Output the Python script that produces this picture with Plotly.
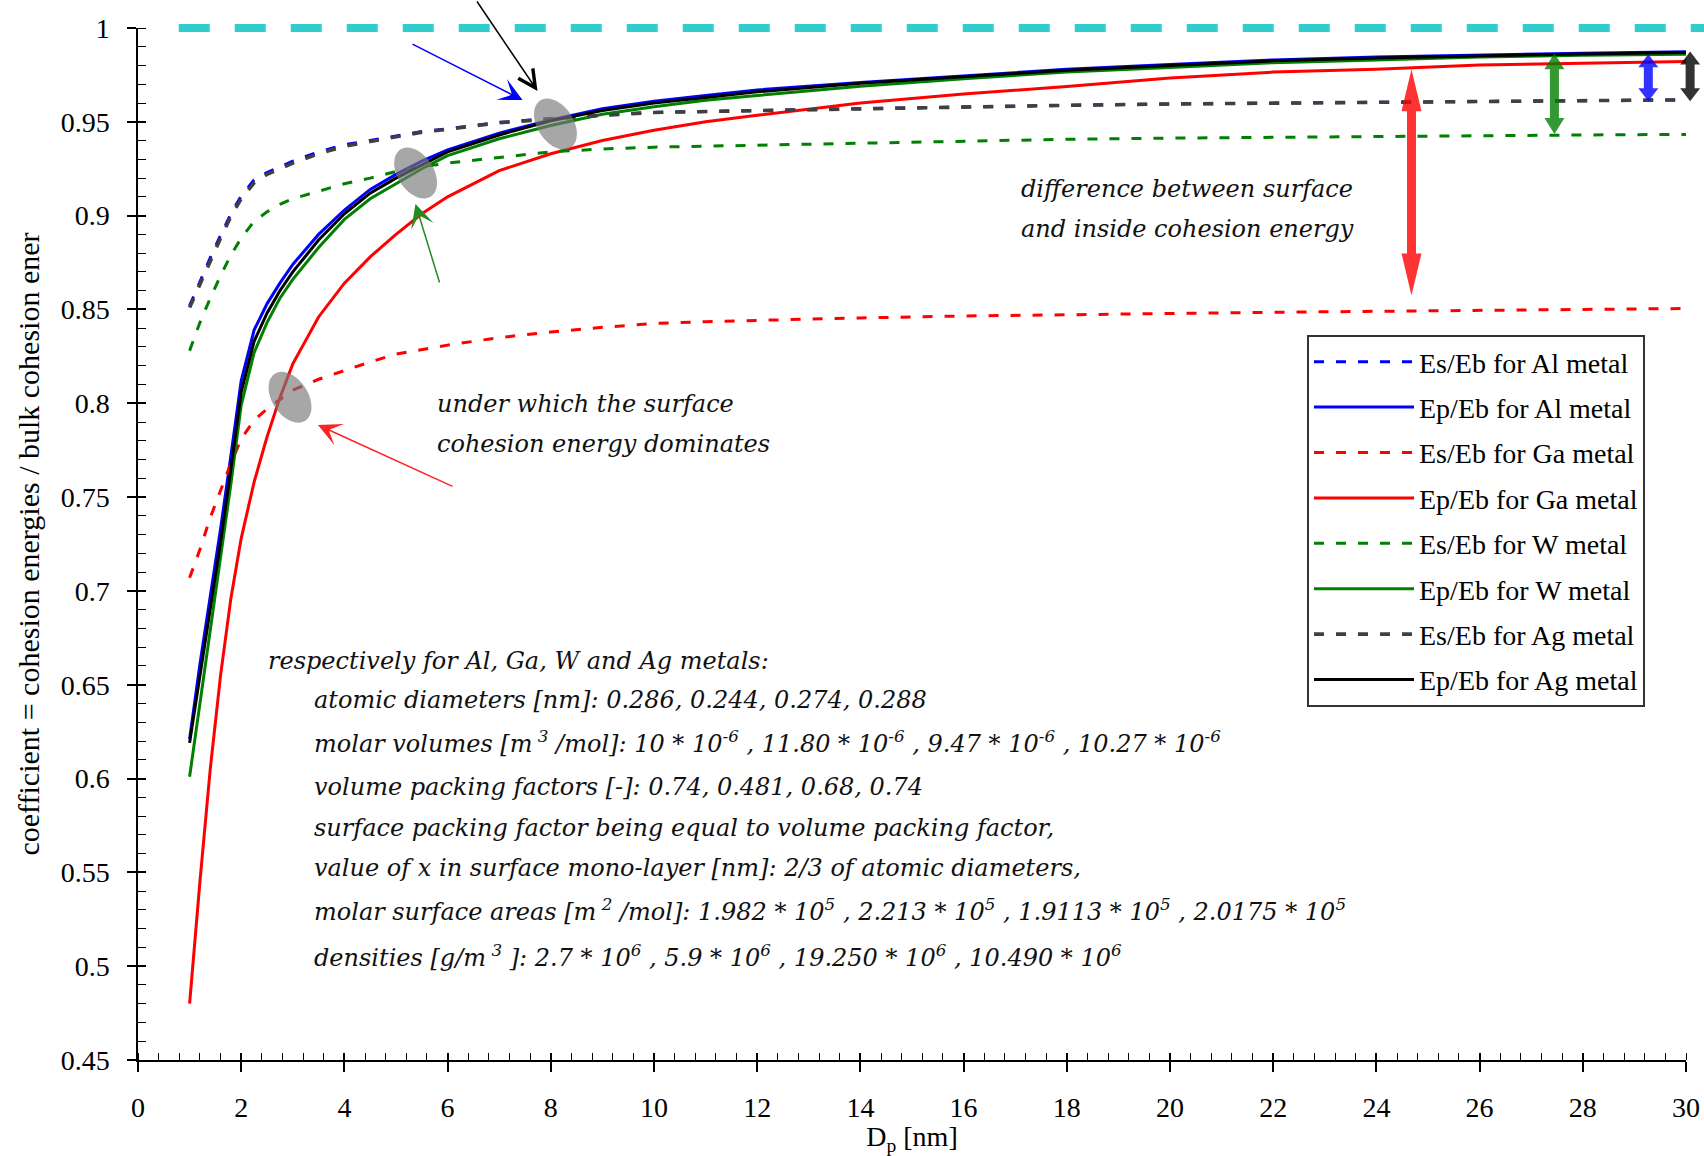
import math
import plotly.graph_objects as go

# ---------------- data ----------------
dp_nm = [1, 1.2, 1.4, 1.6, 1.8, 2, 2.25, 2.5, 2.75, 3, 3.5, 4, 4.5, 5, 5.5, 6,
         7, 8, 9, 10, 11, 12, 14, 16, 18, 20, 22, 24, 26, 28, 30]

es_al = [0.852, 0.865, 0.8775, 0.8895, 0.901, 0.9105, 0.919, 0.923, 0.926, 0.929,
         0.934, 0.9378, 0.940, 0.9425, 0.9448, 0.9463, 0.9497, 0.9517, 0.9536, 0.955,
         0.9556, 0.956, 0.957, 0.958, 0.9588, 0.9595, 0.960, 0.9605, 0.961, 0.9613, 0.9617]
ep_al = [0.621, 0.661, 0.697, 0.733, 0.772, 0.812, 0.839, 0.853, 0.864, 0.874,
         0.890, 0.903, 0.914, 0.922, 0.929, 0.935, 0.944, 0.951, 0.957, 0.961,
         0.964, 0.967, 0.971, 0.9745, 0.978, 0.9805, 0.983, 0.9845, 0.9857, 0.9866, 0.9873]
es_ga = [0.707, 0.722, 0.739, 0.754, 0.768, 0.781, 0.791, 0.797, 0.802, 0.807,
         0.8128, 0.8175, 0.822, 0.8262, 0.8285, 0.831, 0.835, 0.838, 0.8405, 0.8425,
         0.8435, 0.8443, 0.8455, 0.8465, 0.8473, 0.848, 0.8485, 0.849, 0.8495, 0.850, 0.8505]
ep_ga = [0.480, 0.545, 0.605, 0.655, 0.696, 0.728, 0.758, 0.782, 0.803, 0.821,
         0.846, 0.864, 0.878, 0.890, 0.901, 0.910, 0.924, 0.933, 0.940, 0.9455,
         0.950, 0.9535, 0.960, 0.9648, 0.9688, 0.9733, 0.9765, 0.978, 0.9803, 0.9813, 0.9822]
es_w = [0.828, 0.843, 0.856, 0.868, 0.879, 0.888, 0.897, 0.902, 0.906, 0.909,
        0.913, 0.917, 0.920, 0.9235, 0.926, 0.928, 0.931, 0.934, 0.9355, 0.9365,
        0.937, 0.9375, 0.9387, 0.9397, 0.9407, 0.9413, 0.9418, 0.9422, 0.9426, 0.943, 0.9433]
ep_w = [0.601, 0.640, 0.678, 0.716, 0.757, 0.799, 0.827, 0.843, 0.856, 0.866,
        0.883, 0.898, 0.909, 0.917, 0.925, 0.932, 0.941, 0.948, 0.954, 0.958,
        0.9615, 0.964, 0.969, 0.973, 0.9765, 0.979, 0.9815, 0.983, 0.9845, 0.9855, 0.986]
es_ag = [0.851, 0.8635, 0.876, 0.888, 0.8995, 0.909, 0.9175, 0.922, 0.925, 0.928,
         0.933, 0.937, 0.9395, 0.942, 0.9445, 0.946, 0.9495, 0.9515, 0.9535, 0.955,
         0.9555, 0.956, 0.957, 0.958, 0.9588, 0.9595, 0.960, 0.9605, 0.961, 0.9613, 0.9617]
ep_ag = [0.619, 0.655, 0.690, 0.726, 0.765, 0.806, 0.833, 0.848, 0.860, 0.870,
         0.887, 0.901, 0.912, 0.920, 0.927, 0.934, 0.943, 0.9505, 0.956, 0.960,
         0.963, 0.966, 0.9705, 0.974, 0.9775, 0.980, 0.9825, 0.984, 0.9853, 0.9862, 0.987]

series_names = ["Es/Eb for Al metal", "Ep/Eb for Al metal",
                "Es/Eb for Ga metal", "Ep/Eb for Ga metal",
                "Es/Eb for W metal", "Ep/Eb for W metal",
                "Es/Eb for Ag metal", "Ep/Eb for Ag metal"]
series_values = [es_al, ep_al, es_ga, ep_ga, es_w, ep_w, es_ag, ep_ag]
series_colors = ["#0000ff", "#0000ff", "#ff0000", "#ff0000",
                 "#008000", "#008000", "#404040", "#000000"]
series_dashed = [True, False, True, False, True, False, True, False]
series_widths = [3, 3, 3, 3, 3, 3, 3.6, 3]

bulk_level = 1.0                       # Eb/Eb reference line
# double arrows: x, top value, bottom value (difference surface vs inside)
diff_arrow_x = [24.68, 27.45, 29.27, 30.08]
diff_arrow_top = [0.978, 0.9865, 0.986, 0.9875]
diff_arrow_bot = [0.8575, 0.9435, 0.961, 0.961]
diff_arrow_col = ["rgba(255,0,0,0.8)", "rgba(0,128,0,0.8)",
                  "rgba(0,0,255,0.8)", "rgba(0,0,0,0.8)"]
diff_head_len = [42, 16, 13, 13]
# crossing points (grey ellipses)
cross_x = [2.946, 5.38, 8.09]
cross_y = [0.8032, 0.9227, 0.9488]

# ---------------- layout geometry ----------------
W, H = 1704, 1156
ML, MR, MT, MB = 138, 18, 28, 96
PW, PH = W - ML - MR, H - MT - MB
X0, X1 = 0.0, 30.0
Y0, Y1 = 0.45, 1.0


def px_x(x):
    return ML + (x - X0) / (X1 - X0) * PW


def px_y(y):
    return MT + (Y1 - y) / (Y1 - Y0) * PH


def dat_x(px):
    return X0 + (px - ML) / PW * (X1 - X0)


def dat_y(py):
    return Y1 - (py - MT) / PH * (Y1 - Y0)


def pap_x(px):
    return (px - ML) / PW


def pap_y(py):
    return 1 - (py - MT) / PH


SERIF = "Liberation Serif, Times New Roman, serif"
ITAL = "DejaVu Serif, serif"

fig = go.Figure()

for name, vals, col, dashed, lw in zip(series_names, series_values, series_colors,
                                       series_dashed, series_widths):
    fig.add_trace(go.Scatter(
        x=dp_nm, y=vals, mode="lines", name=name, legendgroup=name,
        line=dict(color=col, width=lw, dash="10px,12px" if dashed else "solid"),
    ))

# dummy trace for the overlay axes (inside major ticks)
fig.add_trace(go.Scatter(x=[None], y=[None], xaxis="x2", yaxis="y2",
                         showlegend=False, hoverinfo="skip"))

shapes = []
# cyan bulk line at 1
shapes.append(dict(type="line", xref="paper", yref="paper",
                   x0=pap_x(178.7), x1=pap_x(1704), y0=pap_y(px_y(bulk_level)), y1=pap_y(px_y(bulk_level)),
                   line=dict(color="#33cccc", width=8, dash="31px,25px"), layer="above"))

# grey ellipses
for cx, cy in zip(cross_x, cross_y):
    X, Y = px_x(cx), px_y(cy)
    a, b, th = 28, 18, math.radians(57)
    pts = []
    for k in range(48):
        t = 2 * math.pi * k / 48
        ex = X + a * math.cos(th) * math.cos(t) - b * math.sin(th) * math.sin(t)
        ey = Y + a * math.sin(th) * math.cos(t) + b * math.cos(th) * math.sin(t)
        pts.append(f"{pap_x(ex):.5f},{pap_y(ey):.5f}")
    shapes.append(dict(type="path", xref="paper", yref="paper",
                       path="M" + " L".join(pts) + " Z",
                       fillcolor="rgba(120,120,120,0.65)", line=dict(width=0), layer="above"))

# double-headed arrows
for xa, yt, yb, col, hl in zip(diff_arrow_x, diff_arrow_top, diff_arrow_bot, diff_arrow_col, diff_head_len):
    cx, t, b = px_x(xa), px_y(yt), px_y(yb)
    sw, hw = 9, 20
    p = [(cx, t), (cx + hw / 2, t + hl), (cx + sw / 2, t + hl), (cx + sw / 2, b - hl),
         (cx + hw / 2, b - hl), (cx, b), (cx - hw / 2, b - hl), (cx - sw / 2, b - hl),
         (cx - sw / 2, t + hl), (cx - hw / 2, t + hl)]
    shapes.append(dict(type="path", xref="paper", yref="paper",
                       path="M" + " L".join(f"{pap_x(u):.5f},{pap_y(v):.5f}" for u, v in p) + " Z",
                       fillcolor=col, line=dict(width=0), layer="above"))

annotations = []
# thin pointer arrows (tip px, tail px, colour, head style)
pointers = [((537.5, 91), (476, 0), "black", 5, 2.3),
            ((522.5, 100), (411, 43.4), "#0000ff", 3, 2.6),
            ((415.5, 204), (440, 284), "#228b22", 3, 2.6),
            ((318, 425), (454, 487), "#ff2020", 3, 2.6)]
for (tx, ty), (sx, sy), col, head, size in pointers:
    annotations.append(dict(x=dat_x(tx), y=dat_y(ty), ax=dat_x(sx), ay=dat_y(sy),
                            xref="x", yref="y", axref="x", ayref="y", text="",
                            showarrow=True, arrowhead=head, arrowsize=size,
                            arrowwidth=1.5, arrowcolor=col, standoff=0))

text_lines = [
    ("difference between surface", 1019, 189),
    ("and inside cohesion energy", 1019, 229),
    ("under which the surface", 435, 404),
    ("cohesion energy dominates", 435, 444),
    ("respectively for Al, Ga, W and Ag metals:", 266, 661),
    ("atomic diameters [nm]: 0.286, 0.244, 0.274, 0.288", 312, 700),
    ("molar volumes [m<sup> 3</sup> /mol]: 10 * 10<sup>-6</sup> , 11.80 * 10<sup>-6</sup> , "
     "9.47 * 10<sup>-6</sup> , 10.27 * 10<sup>-6</sup>", 312, 742),
    ("volume packing factors [-]: 0.74, 0.481, 0.68, 0.74", 312, 787),
    ("surface packing factor being equal to volume packing factor,", 312, 828),
    ("value of x in surface mono-layer [nm]: 2/3 of atomic diameters,", 312, 868),
    ("molar surface areas [m<sup> 2</sup> /mol]: 1.982 * 10<sup>5</sup> , 2.213 * 10<sup>5</sup> , "
     "1.9113 * 10<sup>5</sup> , 2.0175 * 10<sup>5</sup>", 312, 910),
    ("densities [g/m<sup> 3</sup> ]: 2.7 * 10<sup>6</sup> , 5.9 * 10<sup>6</sup> , "
     "19.250 * 10<sup>6</sup> , 10.490 * 10<sup>6</sup>", 312, 956),
]
for txt, lx, cy in text_lines:
    annotations.append(dict(x=pap_x(lx), y=pap_y(cy), xref="paper", yref="paper",
                            text=txt, showarrow=False, xanchor="left", yanchor="middle",
                            align="left",
                            font=dict(family=ITAL, size=24, style="italic", color="#111111")))

axis_common = dict(showgrid=False, zeroline=False, showline=True, linecolor="black",
                   linewidth=1.5, tickcolor="black", tickwidth=1.5, automargin=False,
                   tickfont=dict(family=SERIF, size=28, color="black"))

fig.update_layout(
    width=W, height=H, autosize=False,
    margin=dict(l=ML, r=MR, t=MT, b=MB, pad=0),
    paper_bgcolor="white", plot_bgcolor="white",
    xaxis=dict(range=[X0, X1], dtick=2, tick0=0, ticks="outside", ticklen=10,
               ticklabelstandoff=12,
               minor=dict(dtick=0.4, tick0=0, ticks="inside", ticklen=7,
                          tickcolor="black", tickwidth=1.2),
               title=dict(text="D<sub>p</sub> [nm]", font=dict(family=SERIF, size=28, color="black"),
                          standoff=2),
               **axis_common),
    yaxis=dict(range=[Y0, Y1], dtick=0.05, tick0=0.45, ticks="outside", ticklen=9,
               ticklabelstandoff=12,
               minor=dict(dtick=0.01, tick0=0.45, ticks="inside", ticklen=8,
                          tickcolor="black", tickwidth=1.2),
               title=dict(text="coefficient = cohesion energies / bulk cohesion ener",
                          font=dict(family=SERIF, size=30, color="black"), standoff=12),
               **axis_common),
    xaxis2=dict(overlaying="x", anchor="y", side="bottom", range=[X0, X1], dtick=2, tick0=0,
                ticks="inside", ticklen=7, tickwidth=1.5, tickcolor="black", automargin=False,
                showticklabels=False, showgrid=False, zeroline=False, showline=False),
    yaxis2=dict(overlaying="y", anchor="x", side="left", range=[Y0, Y1], dtick=0.05, tick0=0.45,
                ticks="inside", ticklen=8, tickwidth=1.5, tickcolor="black", automargin=False,
                showticklabels=False, showgrid=False, zeroline=False, showline=False),
    legend=dict(x=pap_x(1307), y=pap_y(335), xanchor="left", yanchor="top",
                bgcolor="white", bordercolor="#333333", borderwidth=2,
                font=dict(family=SERIF, size=28, color="black"),
                itemwidth=100, tracegroupgap=6, traceorder="grouped"),
    shapes=shapes,
    annotations=annotations,
    showlegend=True,
)

fig.write_html("out.html", config={"displayModeBar": False},
               post_script="document.body.style.margin='0';document.body.style.overflow='hidden';")
